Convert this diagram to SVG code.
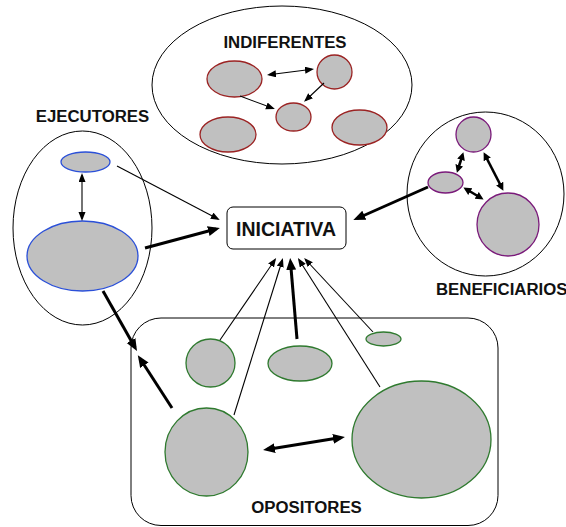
<svg xmlns="http://www.w3.org/2000/svg" width="566" height="527" viewBox="0 0 566 527">
<defs>
<marker id="ta" markerUnits="userSpaceOnUse" markerWidth="10" markerHeight="8" refX="7" refY="3.5" orient="auto-start-reverse"><path d="M0,0 L9,3.5 L0,7 z" fill="#000"/></marker>
<marker id="tk" markerUnits="userSpaceOnUse" markerWidth="13" markerHeight="11" refX="8" refY="5" orient="auto-start-reverse"><path d="M0,0 L12,5 L0,10 z" fill="#000"/></marker>
<marker id="ts" markerUnits="userSpaceOnUse" markerWidth="9" markerHeight="9" refX="5" refY="4" orient="auto-start-reverse"><path d="M0,0 L8,4 L0,8 z" fill="#000"/></marker>
</defs>
<style>
.grp{fill:none;stroke:#000;stroke-width:1}
.lbl{font-family:"Liberation Sans",Arial,sans-serif;font-weight:bold;font-size:16.8px;fill:#111}
.red{fill:#C0C0C0;stroke:#9B2323;stroke-width:1.3}
.blue{fill:#C0C0C0;stroke:#2B50D8;stroke-width:1.3}
.pur{fill:#C0C0C0;stroke:#7A1A7A;stroke-width:1.3}
.grn{fill:#C0C0C0;stroke:#2F7A2F;stroke-width:1.3}
.thin{fill:none;stroke:#000;stroke-width:1.1}
.thick{fill:none;stroke:#000;stroke-width:3}
.mid{fill:none;stroke:#000;stroke-width:2.6}
</style>
<rect width="566" height="527" fill="#fff"/>

<g id="indiferentes">
<ellipse class="grp" cx="282" cy="85" rx="130" ry="79"/>
<text class="lbl" x="285" y="47.5" text-anchor="middle">INDIFERENTES</text>
<ellipse class="red" cx="234.5" cy="79" rx="27.5" ry="18"/>
<ellipse class="red" cx="334.5" cy="72" rx="17.5" ry="17"/>
<ellipse class="red" cx="293.5" cy="117" rx="17.5" ry="14"/>
<ellipse class="red" cx="228" cy="134.5" rx="28" ry="17.5"/>
<ellipse class="red" cx="359.5" cy="127.5" rx="27.5" ry="17.5"/>
</g>

<g id="ejecutores">
<ellipse class="grp" cx="82.5" cy="228" rx="69.5" ry="97"/>
<text class="lbl" x="92.5" y="121.7" text-anchor="middle">EJECUTORES</text>
<ellipse class="blue" cx="85.5" cy="162" rx="24.5" ry="10"/>
<ellipse class="blue" cx="82.5" cy="256" rx="55.5" ry="35"/>
</g>

<g id="beneficiarios">
<ellipse class="grp" cx="485.5" cy="194" rx="78.5" ry="82"/>
<text class="lbl" x="436" y="295" text-anchor="start">BENEFICIARIOS</text>
<ellipse class="pur" cx="473.5" cy="134.5" rx="17.5" ry="17.5"/>
<ellipse class="pur" cx="445.5" cy="182.5" rx="17.5" ry="10.5"/>
<ellipse class="pur" cx="508" cy="224.5" rx="31" ry="31.5"/>
</g>

<g id="opositores">
<rect class="grp" x="131" y="318" width="367" height="207.5" rx="30" ry="30"/>
<text class="lbl" x="306.5" y="512.7" text-anchor="middle">OPOSITORES</text>
<ellipse class="grn" cx="210.5" cy="363" rx="24.5" ry="24"/>
<ellipse class="grn" cx="300" cy="363.5" rx="32" ry="17.5"/>
<ellipse class="grn" cx="383.5" cy="339" rx="17.5" ry="7"/>
<ellipse class="grn" cx="206.5" cy="452" rx="41.5" ry="44"/>
<ellipse class="grn" cx="421.5" cy="439.5" rx="69.5" ry="58.5"/>
</g>

<g id="iniciativa">
<rect x="227" y="207" width="119" height="42" rx="6" ry="6" fill="#fff" stroke="#000" stroke-width="1"/>
<text x="286" y="235.5" text-anchor="middle" font-family="'Liberation Sans',Arial,sans-serif" font-weight="bold" font-size="19.5" fill="#111">INICIATIVA</text>
</g>

<g id="connectors">
<line class="thin" x1="269" y1="74.7" x2="312" y2="69.3" marker-start="url(#ta)" marker-end="url(#ta)"/>
<line class="thin" x1="240" y1="96" x2="273" y2="108.3" marker-end="url(#ta)"/>
<line class="thin" x1="324" y1="83" x2="305.5" y2="100.5" marker-end="url(#ta)"/>

<line class="thin" x1="82" y1="175" x2="82" y2="219" marker-start="url(#ta)" marker-end="url(#ta)"/>
<line class="thin" x1="117" y1="166" x2="218" y2="219" marker-end="url(#ta)"/>
<line class="thick" x1="145" y1="248" x2="216" y2="229" marker-end="url(#tk)"/>
<line class="thick" x1="103" y1="291" x2="135" y2="347.5" marker-end="url(#tk)"/>

<line class="mid" x1="462.5" y1="155" x2="457.8" y2="170" marker-start="url(#ts)" marker-end="url(#ts)"/>
<line class="mid" x1="485" y1="155" x2="502" y2="188" marker-start="url(#ts)" marker-end="url(#ts)"/>
<line class="mid" x1="466" y1="189" x2="481" y2="198" marker-start="url(#ts)" marker-end="url(#ts)"/>
<line class="thick" x1="428" y1="187" x2="357" y2="218.5" marker-end="url(#tk)"/>

<line class="thin" x1="220" y1="340" x2="275" y2="259.7" marker-end="url(#ta)"/>
<line class="thin" x1="234" y1="415" x2="282.3" y2="260" marker-end="url(#ta)"/>
<line class="thick" x1="297" y1="339" x2="290.5" y2="262" marker-end="url(#tk)"/>
<line class="thin" x1="380" y1="387" x2="299" y2="259.8" marker-end="url(#ta)"/>
<line class="thin" x1="373" y1="332" x2="305.5" y2="259.5" marker-end="url(#ta)"/>
<line class="thick" x1="172" y1="408" x2="140" y2="358.5" marker-end="url(#tk)"/>
<line class="thick" x1="267" y1="449.4" x2="341" y2="437.6" marker-start="url(#tk)" marker-end="url(#tk)"/>
</g>
</svg>
